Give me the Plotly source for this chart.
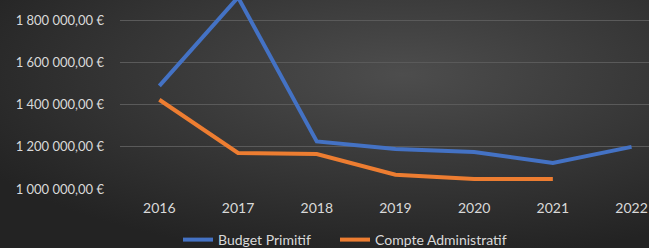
import plotly.graph_objects as go

years = ["2016", "2017", "2018", "2019", "2020", "2021", "2022"]
budget_primitif = [1490000, 1910000, 1226000, 1190000, 1176000, 1124000, 1200000]
compte_admin = [1424000, 1171000, 1166000, 1068000, 1048000, 1048000]
y_tickvals = [1000000, 1200000, 1400000, 1600000, 1800000]
y_ticktext = ["1 000 000,00 €", "1 200 000,00 €", "1 400 000,00 €", "1 600 000,00 €", "1 800 000,00 €"]

FONT = "Lato"
TXT = "#d9d9d9"

fig = go.Figure()
fig.add_trace(go.Scatter(x=list(range(len(years))), y=budget_primitif, mode="lines",
                         name="Budget Primitif", line=dict(color="#4472C4", width=4),
                         legend="legend"))
fig.add_trace(go.Scatter(x=list(range(len(compte_admin))), y=compte_admin, mode="lines",
                         name="Compte Administratif", line=dict(color="#ED7D31", width=4),
                         legend="legend2"))

W, H = 649, 248
L, T, B = 120, 0, 59
bg_svg = (
    "data:image/svg+xml;utf8,"
    "<svg xmlns='http://www.w3.org/2000/svg' width='649' height='248' preserveAspectRatio='none'>"
    "<defs><radialGradient id='g' cx='0.62' cy='0.3' r='0.75' gradientUnits='objectBoundingBox'>"
    "<stop offset='0' stop-color='%234d4d4d'/><stop offset='1' stop-color='%23232323'/>"
    "</radialGradient></defs><rect width='649' height='248' fill='url(%23g)'/></svg>"
)
pw = W - L
ph = H - T - B
fig.add_layout_image(dict(source=bg_svg, xref="paper", yref="paper",
                          x=-L / pw, y=1 + T / ph, sizex=W / pw, sizey=H / ph,
                          xanchor="left", yanchor="top", sizing="stretch", layer="below"))

leg_common = dict(orientation="h", xref="container", yref="container",
                  y=(H - 240) / H, xanchor="left", yanchor="middle",
                  font=dict(family=FONT, size=14, color=TXT),
                  bgcolor="rgba(0,0,0,0)")
fig.update_layout(
    width=W, height=H,
    margin=dict(l=L, r=0, t=T, b=B),
    paper_bgcolor="#2e2e2e",
    plot_bgcolor="rgba(0,0,0,0)",
    font=dict(family=FONT, size=13, color=TXT),
    showlegend=True,
    legend=dict(x=178 / W, **leg_common),
    legend2=dict(x=335 / W, **leg_common),
)
fig.update_xaxes(
    tickmode="array", tickvals=list(range(len(years))), ticktext=years,
    range=[-0.5, (W - L) / 78.7 - 0.5], showgrid=False, zeroline=False,
    showline=False, ticks="", ticklabelstandoff=9, tickfont=dict(size=14, color=TXT),
)
fig.update_yaxes(
    tickmode="array", tickvals=y_tickvals, ticktext=y_ticktext,
    range=[1000000, 1000000 + 189.4 * 200000 / 42.2],
    showgrid=True, gridcolor="#5a5a5a", gridwidth=1, zeroline=False,
    showline=False, ticks="", ticklabelstandoff=15, tickfont=dict(size=13, color=TXT),
)
fig.write_html("out.html", config={"displayModeBar": False},
               post_script="document.body.style.margin='0';document.body.style.overflow='hidden';")
